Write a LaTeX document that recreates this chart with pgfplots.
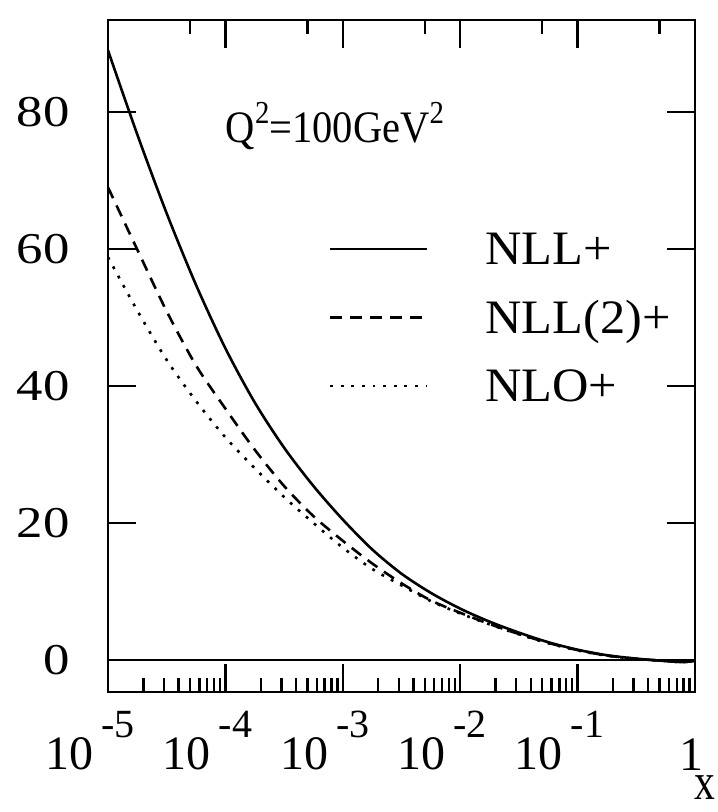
\documentclass[border=0pt]{standalone}
\usepackage{fontspec}
\setmainfont{Liberation Serif}
\newfontfamily\tickfont{Liberation Serif}[FakeStretch=1.2]
\newfontfamily\legfont{Liberation Serif}[FakeStretch=1.05]
\newfontfamily\annfont{Liberation Serif}[FakeStretch=0.9]
\newfontfamily\xfont{Liberation Serif}[FakeStretch=0.8]
\usepackage{pgfplots}
\pgfplotsset{compat=1.18}
\newcommand{\xl}[1]{\hspace{-18pt}\fontsize{24}{24}\selectfont 10\hspace{4pt}\raisebox{16pt}{\fontsize{20}{20}\selectfont #1}}

\pgfplotstableread{
x y
1e-5 89.0
1.778e-5 76.7
3.162e-5 65.2
5.623e-5 54.75
1e-4 45.5
1.778e-4 37.6
3.162e-4 31.0
5.623e-4 25.4
1e-3 20.5
1.778e-3 16.15
3.162e-3 12.6
5.623e-3 9.8
1e-2 7.5
1.778e-2 5.6
3.162e-2 4.0
5.623e-2 2.6
1e-1 1.5
1.778e-1 0.7
3.162e-1 0.2
5.623e-1 -0.15
7.943e-1 -0.3
1 -0.1
}\nll

\pgfplotstableread{
x y
1e-5 69.0
1.778e-5 59.9
3.162e-5 50.9
5.623e-5 43.0
1e-4 36.7
1.778e-4 30.7
3.162e-4 25.4
5.623e-4 21.0
1e-3 17.4
1.778e-3 14.1
3.162e-3 11.2
5.623e-3 8.7
1e-2 6.9
1.778e-2 5.25
3.162e-2 3.8
5.623e-2 2.5
1e-1 1.45
1.778e-1 0.65
3.162e-1 0.18
5.623e-1 -0.15
7.943e-1 -0.3
1 -0.1
}\nlltwo

\pgfplotstableread{
x y
1e-5 58.8
1.778e-5 51.0
3.162e-5 43.8
5.623e-5 37.8
1e-4 32.5
1.778e-4 28.0
3.162e-4 23.8
5.623e-4 20.0
1e-3 16.4
1.778e-3 13.3
3.162e-3 10.9
5.623e-3 8.6
1e-2 6.8
1.778e-2 5.2
3.162e-2 3.75
5.623e-2 2.45
1e-1 1.4
1.778e-1 0.63
3.162e-1 0.17
5.623e-1 -0.15
7.943e-1 -0.3
1 -0.1
}\nlo

\begin{document}
\begin{tikzpicture}
\begin{axis}[
  scale only axis, width=293.5pt, height=336pt,
  xmode=log, xmin=1e-5, xmax=1, ymin=-4.67, ymax=93.43,
  axis line style={line width=1.3pt},
  tick align=inside,
  major tick length=14pt, minor tick length=7pt,
  every tick/.style={line width=1.2pt, black},
  xtick pos=bottom,
  xtick={1e-5,1e-4,1e-3,1e-2,1e-1,1},
  xticklabels={\xl{-5},\xl{-4},\xl{-3},\xl{-2},\xl{-1},{\hspace{-4pt}\fontsize{24}{24}\selectfont 1\rule{0pt}{29.5pt}}},
  ytick={0,20,40,60,80},
  tick label style={font=\tickfont\fontsize{22}{22}\selectfont, inner sep=0pt},
  xticklabel style={font=\rmfamily, anchor=north, yshift=-9.5pt},
  yticklabel style={anchor=east, xshift=-19pt},
  /pgf/number format/assume math mode=true,
  xlabel={x},
  xlabel style={font=\xfont\fontsize{26}{26}\selectfont, inner sep=0pt, at={(axis description cs:1,0)}, anchor=base, xshift=5pt, yshift=-53.5pt},
  legend cell align=left,
  legend image code/.code={\draw[#1] (0pt,0pt) -- (48.5pt,0pt);},
  legend style={draw=none, fill=none, inner sep=0pt, outer sep=0pt,
    at={(axis cs:7.6e-4,60)}, anchor=north west, yshift=8pt, row sep=18.25pt,
    nodes={inner sep=0pt, text height=16pt, text depth=0pt, font=\legfont\fontsize{24}{24}\selectfont},
    /tikz/every odd column/.append style={column sep=28.5pt}},
]
\addplot[black, line width=1.3pt, forget plot] coordinates {(1e-5,0) (1,0)};
\addplot[black, line width=1.3pt, smooth] table[x=x,y=y]{\nll};
\addplot[black, line width=1.3pt, smooth, dash pattern=on 6pt off 4pt] table[x=x,y=y]{\nlltwo};
\addplot[black, line width=1.3pt, smooth, dash pattern=on 1.4pt off 3.9pt] table[x=x,y=y]{\nlo};
\legend{NLL+, NLL(2)+, NLO+}
\node[anchor=base west, inner sep=0pt, font=\annfont\fontsize{22.5}{22.5}\selectfont] at (axis cs:1.0e-4,75.5) {Q\raisebox{9.5pt}{\fontsize{16}{16}\selectfont 2}=100GeV\raisebox{9.5pt}{\fontsize{16}{16}\selectfont 2}};
\end{axis}
\begin{axis}[
  scale only axis, width=293.5pt, height=336pt,
  xmode=log, xmin=1e-5, xmax=1, ymin=-4.67, ymax=93.43,
  hide y axis, axis line style={draw=none},
  tick align=inside,
  major tick length=14pt, minor tick length=7pt,
  every tick/.style={line width=1.2pt, black},
  xtick pos=top,
  xtick={1e-5,1e-4,1e-3,1e-2,1e-1,1},
  minor xtick={5e-5,5e-4,5e-3,5e-2,5e-1},
  xticklabels={},
]
\addplot[draw=none, forget plot] coordinates {(1e-5,0) (1,0)};
\end{axis}
\pgfresetboundingbox
\path[use as bounding box] (-54pt,-60pt) rectangle (304.5pt,346pt);
\end{tikzpicture}
\end{document}
